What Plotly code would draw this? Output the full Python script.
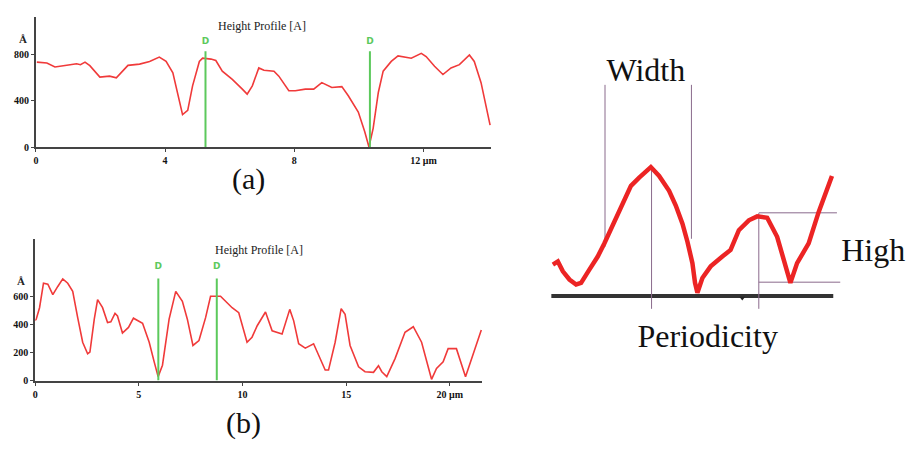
import plotly.graph_objects as go

W, H = 912, 450

# ---------------- Panel (a) data ----------------
a_x = [0.03, 0.34, 0.59, 0.8, 1.06, 1.26, 1.38, 1.52, 1.67, 1.98, 2.28, 2.49, 2.85, 3.21, 3.52, 3.82,
       4.03, 4.24, 4.39, 4.54, 4.7, 4.85, 5.06, 5.16, 5.42, 5.57, 5.77, 6.08, 6.39, 6.54, 6.7,
       6.9, 7.06, 7.37, 7.52, 7.83, 8.03, 8.34, 8.6, 8.85, 9.16, 9.47, 9.67, 9.98, 10.18, 10.31,
       10.44, 10.6, 10.75, 11.0, 11.21, 11.62, 11.93, 12.08, 12.34, 12.6, 12.85, 13.11, 13.42,
       13.57, 13.78, 13.93, 14.06]
a_y = [732, 724, 690, 696, 710, 718, 710, 732, 701, 603, 611, 597, 704, 715, 738, 775,
       738, 639, 456, 279, 316, 527, 738, 766, 758, 746, 654, 583, 499, 456, 527,
       682, 662, 654, 611, 485, 485, 499, 499, 555, 513, 521, 442, 301, 132, 0,
       161, 470, 654, 738, 786, 766, 808, 780, 696, 625, 682, 710, 794,
       738, 555, 372, 189]
a_markers = [5.25, 10.34]
a_marker_top = 825
a_ticks = [0, 4, 8, 12]
a_ticktext = ["0", "4", "8", "12 μm"]
a_yticks = [0, 400, 800]

# ---------------- Panel (b) data ----------------
b_x = [0.0, 0.05, 0.21, 0.4, 0.61, 0.85, 1.09, 1.33, 1.57, 1.81, 2.05, 2.29, 2.53, 2.64, 2.85, 3.01,
       3.25, 3.49, 3.65, 3.85, 3.97, 4.21, 4.5, 4.74, 5.18, 5.5, 5.74, 5.93, 6.14, 6.46, 6.78,
       7.1, 7.34, 7.61, 7.9, 8.22, 8.46, 8.94, 9.5, 9.82, 10.22, 10.46, 10.71, 11.11, 11.43,
       11.91, 12.28, 12.47, 12.71, 13.03, 13.43, 13.67, 13.99, 14.15, 14.47, 14.76, 14.95,
       15.19, 15.6, 15.91, 16.32, 16.56, 16.72, 16.96, 17.36, 17.84, 18.24, 18.64, 19.12,
       19.36, 19.68, 19.92, 20.32, 20.76, 21.13, 21.52]
b_y = [430, 439, 521, 696, 689, 614, 673, 727, 696, 638, 450, 274, 192, 204, 439, 579,
       521, 415, 420, 481, 462, 340, 380, 446, 410, 274, 134, 28, 110, 439, 638,
       567, 439, 251, 286, 450, 603, 603, 521, 485, 274, 310, 392, 490, 356,
       333, 509, 427, 263, 232, 263, 181, 75, 75, 274, 514, 474,
       251, 98, 63, 59, 106, 63, 28, 157, 345, 385, 274, 9,
       87, 134, 228, 228, 28, 192, 361]
b_markers = [5.94, 8.76]
b_marker_top = 729
b_ticks = [0, 5, 10, 15, 20]
b_ticktext = ["0", "5", "10", "15", "20 μm"]
b_yticks = [0, 200, 400, 600]

# ---------------- Schematic data (position along profile, height above base) ----------------
s_x = [1.7, 6.7, 11.7, 18.3, 25, 30, 38.3, 46.7, 53.3, 60, 66.7, 73.3, 80, 88.3, 100,
       108.3, 118.3, 125, 131.7, 136.7, 141.7, 144.3, 146.7, 151.7, 160, 171.7, 180,
       188.3, 198.3, 206.7, 216.7, 226.7, 240, 246.7, 258.3, 268.3, 276.7, 281.7]
s_h = [31.7, 35, 25, 16.7, 11.7, 13.3, 26.7, 40, 53.3, 68.3, 83.3, 98.3, 111.7, 120, 130.7,
       121.7, 106.7, 91.7, 73.3, 55, 33.3, 13.3, 3.3, 18.3, 30, 40, 46.7,
       66.7, 76.7, 80.7, 79.3, 60, 13.3, 33.3, 53.3, 85, 106.7, 121.7]
base_x = [0, 283]
width_left = (54, 50, 214)
width_right = (140.7, 58, 214)
period_left = (100.7, 131, -13)
period_right = (208.3, 84, -13)
high_top = (84.3, 208.3, 286.7)
high_bottom = (14, 208.3, 290)
labels = ["Width", "Periodicity", "High"]
label_x = [95, 157, 323]
label_h = [226, -44, 44]

RED = "#f03a3a"
GREEN = "#5cc95c"
PURPLE = "#8a6a8c"
SERIF = "Liberation Serif"


def px(x):
    return x / W


def py(y):
    return 1 - y / H


fig = go.Figure()

# Panel (a)
fig.add_trace(go.Scatter(x=a_x, y=a_y, mode="lines", line=dict(color=RED, width=1.6),
                         xaxis="x", yaxis="y", hoverinfo="skip"))
for m in a_markers:
    fig.add_trace(go.Scatter(x=[m, m], y=[0, a_marker_top], mode="lines",
                             line=dict(color=GREEN, width=2), xaxis="x", yaxis="y"))
fig.add_trace(go.Scatter(x=a_markers, y=[910] * len(a_markers), mode="text", text=["D"] * len(a_markers),
                         textfont=dict(color=GREEN, size=9, family="DejaVu Sans", weight="bold"),
                         xaxis="x", yaxis="y"))

# Panel (b)
fig.add_trace(go.Scatter(x=b_x, y=b_y, mode="lines", line=dict(color=RED, width=1.6),
                         xaxis="x2", yaxis="y2", hoverinfo="skip"))
for m in b_markers:
    fig.add_trace(go.Scatter(x=[m, m], y=[0, b_marker_top], mode="lines",
                             line=dict(color=GREEN, width=2), xaxis="x2", yaxis="y2"))
fig.add_trace(go.Scatter(x=b_markers, y=[812] * len(b_markers), mode="text", text=["D"] * len(b_markers),
                         textfont=dict(color=GREEN, size=9, family="DejaVu Sans", weight="bold"),
                         xaxis="x2", yaxis="y2"))

# Schematic
fig.add_trace(go.Scatter(x=base_x, y=[0, 0], mode="lines", line=dict(color="#333333", width=4),
                         xaxis="x3", yaxis="y3"))
fig.add_trace(go.Scatter(x=[191.7], y=[-2], mode="markers",
                         marker=dict(symbol="triangle-down", size=5, color="#222222"),
                         xaxis="x3", yaxis="y3"))
for (xv, h0, h1) in [width_left, width_right, period_left, period_right]:
    fig.add_trace(go.Scatter(x=[xv, xv], y=[h0, h1], mode="lines", line=dict(color=PURPLE, width=1),
                             xaxis="x3", yaxis="y3"))
for (hv, x0, x1) in [high_top, high_bottom]:
    fig.add_trace(go.Scatter(x=[x0, x1], y=[hv, hv], mode="lines", line=dict(color=PURPLE, width=1),
                             xaxis="x3", yaxis="y3"))
fig.add_trace(go.Scatter(x=s_x, y=s_h, mode="lines", line=dict(color="#ec2424", width=4.5),
                         xaxis="x3", yaxis="y3"))
fig.add_trace(go.Scatter(x=label_x, y=label_h, mode="text", text=labels,
                         textfont=dict(family=SERIF, size=32, color="#111111"),
                         cliponaxis=False, xaxis="x3", yaxis="y3"))

axis_common = dict(showgrid=False, zeroline=False, showline=True, linecolor="#444444", linewidth=2,
                   ticks="outside", ticklen=3, tickcolor="#444444", tickwidth=1,
                   tickfont=dict(family=SERIF, size=10, color="#111111", weight="bold"))


def ann(text, x, y, size, color="#111111", weight="normal"):
    return dict(text=text, x=px(x), y=py(y), xref="paper", yref="paper", xanchor="center",
                yanchor="middle", showarrow=False,
                font=dict(family=SERIF, size=size, color=color, weight=weight))


fig.update_layout(
    width=W, height=H, margin=dict(l=0, r=0, t=0, b=0),
    paper_bgcolor="white", plot_bgcolor="rgba(0,0,0,0)", showlegend=False,
    xaxis=dict(domain=[px(33), px(490)], range=[0, 14.1], tickvals=a_ticks, ticktext=a_ticktext,
               anchor="y", **axis_common),
    yaxis=dict(domain=[py(149), py(17)], range=[0, 1123], tickvals=a_yticks, anchor="x", **axis_common),
    xaxis2=dict(domain=[px(32.3), px(480.7)], range=[0, 21.56], tickvals=b_ticks, ticktext=b_ticktext,
                anchor="y2", **axis_common),
    yaxis2=dict(domain=[py(385.7), py(242.7)], range=[0, 1009], tickvals=b_yticks, anchor="x2",
                **axis_common),
    xaxis3=dict(domain=[px(550), 1.0], range=[0, 362], visible=False, anchor="y3"),
    yaxis3=dict(domain=[py(370), py(40)], range=[-70, 260], visible=False, anchor="x3"),
    annotations=[
        ann("Height Profile [A]", 260, 26, 12, "#222222"),
        ann("Height Profile [A]", 257, 253, 12, "#222222"),
        ann("Å", 20, 40, 11, "#222222", "bold"),
        ann("Å", 18, 285, 11, "#222222", "bold"),
        ann("(a)", 246, 181, 30),
        ann("(b)", 241, 429, 30),
    ],
)

fig.write_html("out.html", config={"displayModeBar": False},
               post_script="document.body.style.margin='0';")
